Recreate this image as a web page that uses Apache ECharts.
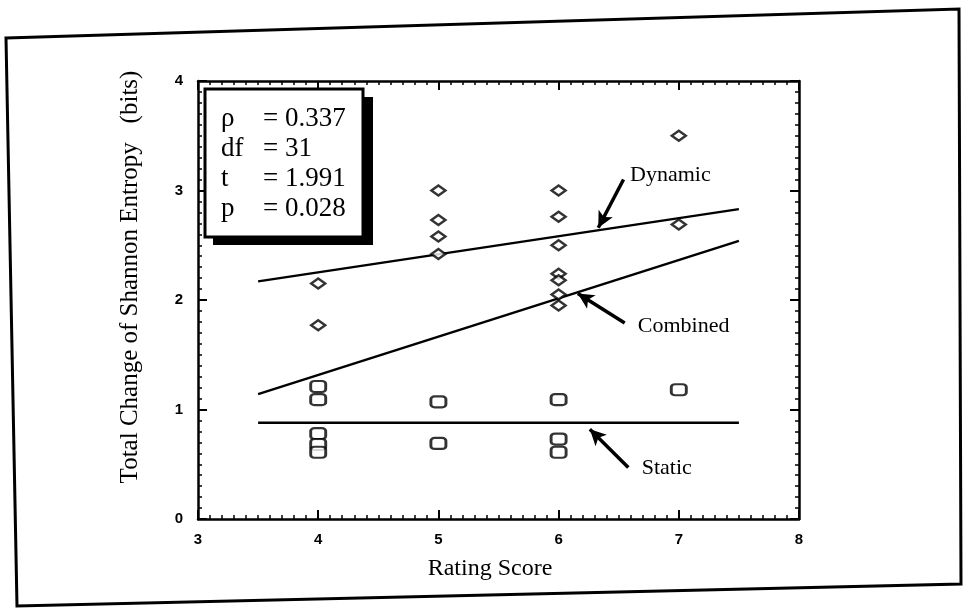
<!DOCTYPE html>
<html>
<head>
<meta charset="utf-8">
<script src="https://cdn.jsdelivr.net/npm/echarts/dist/echarts.min.js"></script>
<style>
  html, body { margin: 0; padding: 0; background: #fff; }
  #main { width: 965px; height: 612px; }
</style>
</head>
<body>
<div id="main"></div>
<script>
// rating score (x) and entropy change (y)
var dynamicX = [4, 4, 5, 5, 5, 5, 6, 6, 6, 6, 6, 6, 6, 7, 7];
var dynamicY = [2.15, 1.77, 3.00, 2.73, 2.58, 2.42, 3.00, 2.76, 2.50, 2.24, 2.18, 2.05, 1.95, 3.50, 2.69];
var staticX = [4, 4, 4, 4, 4, 5, 5, 6, 6, 6, 7];
var staticY = [1.21, 1.09, 0.78, 0.68, 0.61, 1.07, 0.69, 1.09, 0.73, 0.61, 1.18];

// fitted lines, end points
var fitX = [3.5, 7.5];
var dynamicFit = [2.17, 2.83];
var combinedFit = [1.14, 2.54];
var staticFit = [0.88, 0.88];

var statNames = ['\u03c1', 'df', 't', 'p'];
var statValues = ['= 0.337', '= 31', '= 1.991', '= 0.028'];

// annotation labels: text, text position, arrow tail, arrow tip (data coords)
var notes = [
  { text: 'Dynamic', at: [6.93, 3.14], from: [6.54, 3.10], to: [6.33, 2.66] },
  { text: 'Combined', at: [7.04, 1.76], from: [6.55, 1.79], to: [6.16, 2.06] },
  { text: 'Static', at: [6.90, 0.46], from: [6.58, 0.47], to: [6.26, 0.82] }
];

function pairs(xs, ys) {
  return xs.map(function (x, i) { return [x, ys[i]]; });
}

var serif = 'Liberation Serif, Times New Roman, serif';
var sans = 'Liberation Sans, Arial, sans-serif';

var chart = echarts.init(document.getElementById('main'));

function axisBase(show) {
  return {
    type: 'value',
    axisLine: { show: true, onZero: false, lineStyle: { color: '#000', width: 2.5 } },
    axisTick: { show: true, inside: true, length: 9, lineStyle: { color: '#000', width: 2 } },
    minorTick: { show: true, splitNumber: 10, length: 4, lineStyle: { color: '#000', width: 1.5 } },
    splitLine: { show: false },
    axisLabel: { show: show, color: '#000', fontFamily: sans, fontWeight: 'bold', fontSize: 15 }
  };
}

var xBottom = Object.assign(axisBase(true), { position: 'bottom', min: 3, max: 8, interval: 1 });
xBottom.axisLabel.margin = 13;
var xTop = Object.assign(axisBase(false), { position: 'top', min: 3, max: 8, interval: 1 });
var yLeft = Object.assign(axisBase(true), { position: 'left', min: 0, max: 4, interval: 1 });
yLeft.axisLabel.margin = 15;
var yRight = Object.assign(axisBase(false), { position: 'right', min: 0, max: 4, interval: 1 });

function fitSeries(name, ys) {
  return {
    name: name,
    type: 'line',
    data: pairs(fitX, ys),
    symbol: 'none',
    lineStyle: { color: '#000', width: 2.5 },
    silent: true,
    z: 2
  };
}

var arrows = notes.map(function (n) {
  return [{ coord: n.from, symbol: 'none' }, { coord: n.to, symbol: 'arrow', symbolSize: [12, 16] }];
});

var option = {
  animation: false,
  backgroundColor: '#fff',
  grid: { left: 198, right: 166, top: 81, bottom: 93 },
  xAxis: [xBottom, xTop],
  yAxis: [yLeft, yRight],
  series: [
    fitSeries('Dynamic', dynamicFit),
    fitSeries('Combined', combinedFit),
    Object.assign(fitSeries('Static', staticFit), {
      markLine: {
        silent: true,
        label: { show: false },
        lineStyle: { color: '#000', width: 3.5, type: 'solid' },
        data: arrows
      }
    }),
    {
      name: 'dynamic points',
      type: 'scatter',
      data: pairs(dynamicX, dynamicY),
      symbol: 'diamond',
      symbolSize: [14, 10],
      itemStyle: { color: '#fff', borderColor: '#000', borderWidth: 2.5 },
      z: 3
    },
    {
      name: 'static points',
      type: 'scatter',
      data: pairs(staticX, staticY),
      symbol: 'roundRect',
      symbolSize: [15, 11],
      itemStyle: { color: '#fff', borderColor: '#000', borderWidth: 2.5 },
      z: 3
    }
  ]
};

chart.setOption(option);

var graphics = [
  // outer frame of the scanned page
  {
    type: 'polygon',
    shape: { points: [[6, 38], [959, 9], [961, 584], [17, 606]] },
    style: { fill: 'none', stroke: '#000', lineWidth: 3 },
    z: -1
  },
  // y axis title
  {
    type: 'text',
    x: 130, y: 277,
    rotation: Math.PI / 2,
    style: {
      text: 'Total Change of Shannon Entropy   (bits)',
      font: '25px ' + serif,
      fill: '#000',
      align: 'center',
      verticalAlign: 'middle'
    }
  },
  // x axis title
  {
    type: 'text',
    x: 490, y: 569,
    style: {
      text: 'Rating Score',
      font: '24px ' + serif,
      fill: '#000',
      align: 'center',
      verticalAlign: 'middle'
    }
  },
  // stats box with shadow
  {
    type: 'rect',
    shape: { x: 213, y: 97, width: 160, height: 148 },
    style: { fill: '#000' },
    z: 10
  },
  {
    type: 'rect',
    shape: { x: 205, y: 89, width: 158, height: 148 },
    style: { fill: '#fff', stroke: '#000', lineWidth: 3 },
    z: 11
  }
];

statNames.forEach(function (s, i) {
  var y = 119 + i * 30;
  graphics.push({
    type: 'text', x: 221, y: y, z: 12,
    style: { text: s, font: '27px ' + serif, fill: '#000', verticalAlign: 'middle' }
  });
  graphics.push({
    type: 'text', x: 263, y: y, z: 12,
    style: { text: statValues[i], font: '27px ' + serif, fill: '#000', verticalAlign: 'middle' }
  });
});

notes.forEach(function (n) {
  var p = chart.convertToPixel({ gridIndex: 0 }, n.at);
  graphics.push({
    type: 'text', x: p[0], y: p[1], z: 12,
    style: { text: n.text, font: '22px ' + serif, fill: '#000', align: 'center', verticalAlign: 'middle' }
  });
});

chart.setOption({ graphic: graphics });
</script>
</body>
</html>
